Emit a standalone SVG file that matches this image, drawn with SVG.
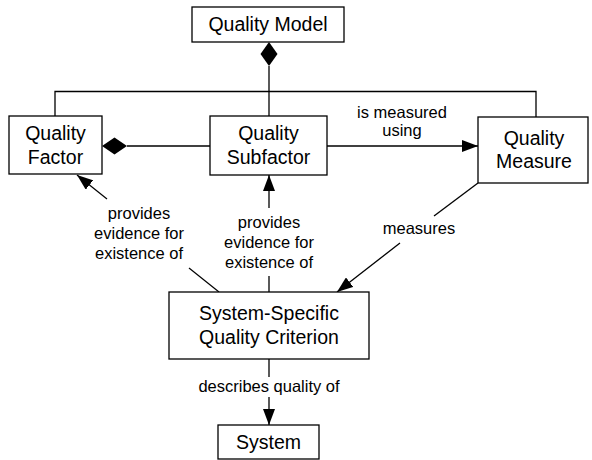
<svg xmlns="http://www.w3.org/2000/svg" width="592" height="460" viewBox="0 0 592 460">
<defs>
<style>
.box{fill:#fff;stroke:#000;stroke-width:1.3}
.ln{fill:none;stroke:#000;stroke-width:1.3}
.dia{fill:#000;stroke:none}
.t{font-family:"Liberation Sans",Arial,sans-serif;font-size:19.5px;text-anchor:middle;fill:#000}
.l{font-family:"Liberation Sans",Arial,sans-serif;font-size:16.5px;text-anchor:middle;fill:#000}
</style>
<marker id="arr" viewBox="0 0 16 12" refX="16" refY="6" markerWidth="16" markerHeight="12" markerUnits="userSpaceOnUse" orient="auto">
<path d="M0,0 L16,6 L0,12 Z" fill="#000"/>
</marker>
</defs>
<g id="connectors">
<path class="ln" d="M269,116 L269,66"/>
<path class="dia" d="M269,42 L277.5,54 L269,66 L260.5,54 Z"/>
<path class="ln" d="M55,116 L55,91.5 L536,91.5 L536,117"/>
<path class="ln" d="M210,146 L127,146"/>
<path class="dia" d="M102,146 L114.5,137.5 L127,146 L114.5,154.5 Z"/>
<path class="ln" d="M327,146 L478,146" marker-end="url(#arr)"/>
<path class="ln" d="M107,199 L77,175" marker-end="url(#arr)"/>
<path class="ln" d="M189,268 L219,292"/>
<path class="ln" d="M269,208 L269,175" marker-end="url(#arr)"/>
<path class="ln" d="M269,276 L269,292"/>
<path class="ln" d="M478,183 L434,216"/>
<path class="ln" d="M400,243 L337,292" marker-end="url(#arr)"/>
<path class="ln" d="M269,359 L269,377"/>
<path class="ln" d="M269,397 L269,425" marker-end="url(#arr)"/>
<text class="l" x="402" y="118">is measured</text>
<text class="l" x="402" y="136">using</text>
<text class="l" x="139" y="219">provides</text>
<text class="l" x="139" y="239">evidence for</text>
<text class="l" x="139" y="259">existence of</text>
<text class="l" x="269" y="228">provides</text>
<text class="l" x="269" y="248">evidence for</text>
<text class="l" x="269" y="268">existence of</text>
<text class="l" x="419" y="234">measures</text>
<text class="l" x="269" y="392">describes quality of</text>
</g>
<g id="quality-model">
<rect class="box" x="192" y="7" width="152" height="35"/>
<text class="t" x="268" y="31">Quality Model</text>
</g>
<g id="quality-factor">
<rect class="box" x="9" y="116" width="93" height="58"/>
<text class="t" x="55.5" y="140">Quality</text>
<text class="t" x="55.5" y="164">Factor</text>
</g>
<g id="quality-subfactor">
<rect class="box" x="210" y="116" width="117" height="59"/>
<text class="t" x="268.5" y="140">Quality</text>
<text class="t" x="268.5" y="164">Subfactor</text>
</g>
<g id="quality-measure">
<rect class="box" x="478" y="117" width="110" height="66"/>
<text class="t" x="534" y="145">Quality</text>
<text class="t" x="534" y="168">Measure</text>
</g>
<g id="criterion">
<rect class="box" x="169" y="292" width="200" height="67"/>
<text class="t" x="269" y="320">System-Specific</text>
<text class="t" x="269" y="344">Quality Criterion</text>
</g>
<g id="system">
<rect class="box" x="218" y="425" width="101" height="34"/>
<text class="t" x="268.5" y="449">System</text>
</g>
</svg>
